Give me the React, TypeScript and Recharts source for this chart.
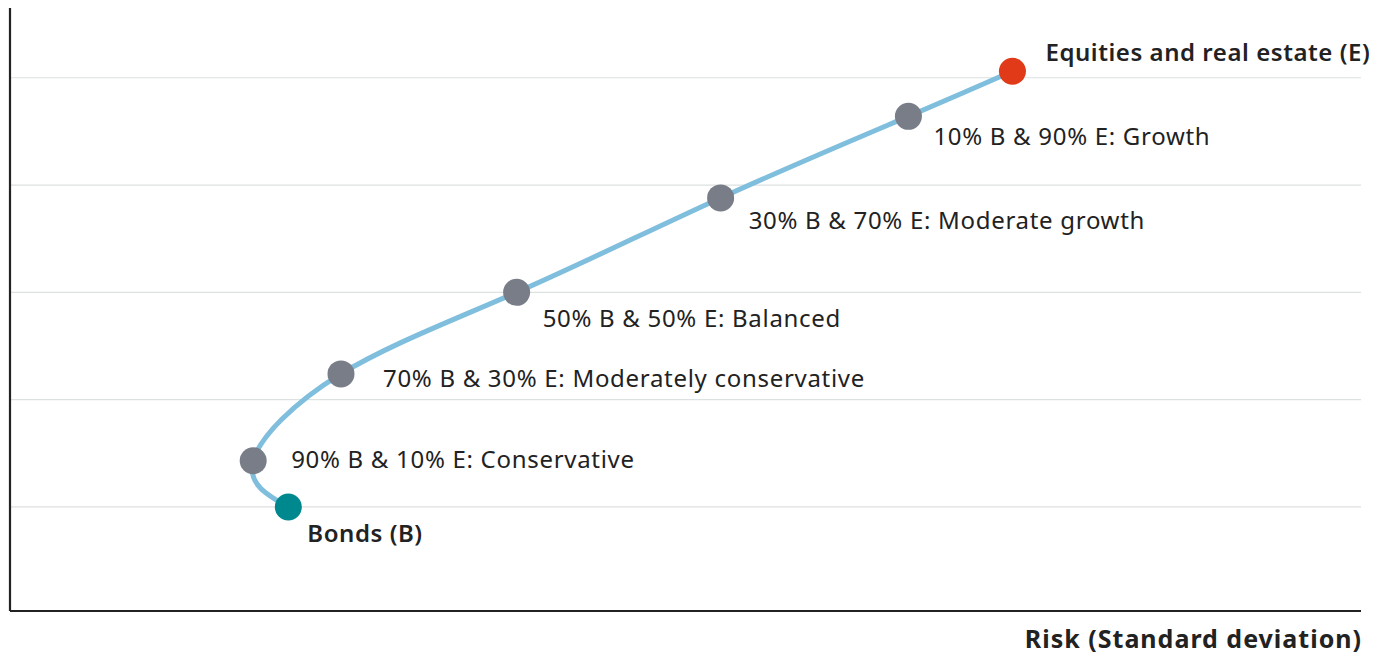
import {
  ComposedChart,
  Line,
  ReferenceLine,
  XAxis,
  YAxis,
} from 'recharts';

if (typeof document !== 'undefined') document.body.style.margin = '0';

// portfolio mixes, from all bonds to all equities
const LABELS = [
  'Bonds (B)',
  '90% B & 10% E: Conservative',
  '70% B & 30% E: Moderately conservative',
  '50% B & 50% E: Balanced',
  '30% B & 70% E: Moderate growth',
  '10% B & 90% E: Growth',
  'Equities and real estate (E)',
];
const RISK = [20.6, 18.0, 24.5, 37.5, 52.6, 66.5, 74.2];
const RETURN = [1.0, 1.43, 2.24, 3.0, 3.88, 4.64, 5.06];
const GRID_TICKS = [1, 2, 3, 4, 5];

const DATA = LABELS.map((name, i) => ({ name, risk: RISK[i], ret: RETURN[i] }));

const FONT = '"Noto Sans", Lato, sans-serif';
const DOT_COLORS = ['#00888f', '#787d88', '#787d88', '#787d88', '#787d88', '#787d88', '#e03a19'];
// text start relative to the dot: [dx, baseline dy]
const LABEL_OFFSETS = [[19, 35], [38, 7], [42, 13], [26, 35], [28, 31], [25, 29], [33, -10]];

function Dot(props: any) {
  const { cx, cy, index } = props;
  if (cx == null || cy == null) return null;
  return <circle cx={cx} cy={cy} r={13.5} fill={DOT_COLORS[index]} />;
}

function PointLabel(props: any) {
  const { x, y, index } = props;
  if (x == null || y == null) return null;
  const [dx, dy] = LABEL_OFFSETS[index];
  const bold = index === 0 || index === LABELS.length - 1;
  return (
    <text
      x={x + dx} y={y + dy}
      fontFamily={FONT} fontSize={24}
      fontWeight={bold ? 600 : 400}
      letterSpacing={bold ? 0.55 : 0.7}
      fill="#222"
    >
      {LABELS[index]}
    </text>
  );
}

function AxisTitle(props: any) {
  const { viewBox } = props;
  if (!viewBox) return null;
  return (
    <text
      x={viewBox.x + viewBox.width + 1} y={viewBox.y + 37}
      textAnchor="end"
      fontFamily={FONT} fontSize={25} fontWeight={700}
      letterSpacing={1} fill="#222"
    >
      Risk (Standard deviation)
    </text>
  );
}

export default function App() {
  return (
    <div style={{ width: 1384, height: 657, background: '#fff' }}>
      <ComposedChart
        width={1384} height={657} data={DATA}
        margin={{ top: 8, right: 23, left: 0, bottom: 0 }}
      >
        {GRID_TICKS.map((t) => (
          <ReferenceLine key={t} y={t} stroke="#dde1e1" strokeWidth={1.2} />
        ))}
        <XAxis
          type="number" dataKey="risk" domain={[0, 100]}
          tick={false} tickLine={false} height={46}
          axisLine={{ stroke: '#222', strokeWidth: 2.2 }}
          label={<AxisTitle />}
        />
        <YAxis
          type="number" domain={[0.03, 5.65]} ticks={GRID_TICKS}
          tick={false} tickLine={false} width={10}
          axisLine={{ stroke: '#222', strokeWidth: 2.2 }}
        />
        <Line
          dataKey="ret" type="natural"
          stroke="#7fbedc" strokeWidth={5}
          dot={<Dot />} activeDot={false}
          label={<PointLabel />}
          isAnimationActive={false}
        />
      </ComposedChart>
    </div>
  );
}
